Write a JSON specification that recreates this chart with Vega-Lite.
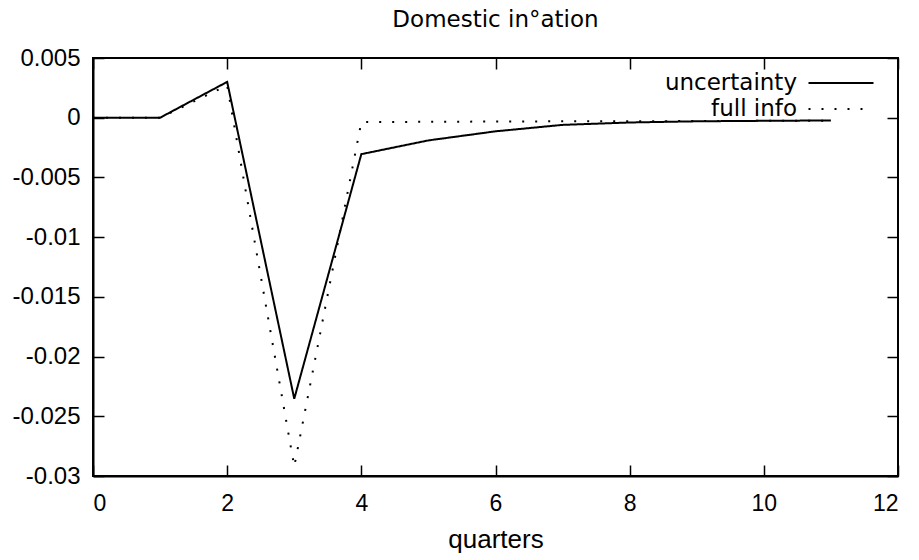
{
  "$schema": "https://vega.github.io/schema/vega-lite/v6.json",
  "width": 805,
  "height": 418,
  "autosize": "none",
  "padding": {"left": 93, "top": 58, "right": 21, "bottom": 84},
  "background": "white",
  "title": {
    "text": "Domestic in°ation",
    "font": "DejaVu Sans",
    "fontSize": 23,
    "fontWeight": "normal",
    "color": "black",
    "anchor": "middle",
    "offset": 14
  },
  "config": {
    "view": {"stroke": "black", "strokeWidth": 2},
    "axis": {
      "grid": false,
      "domainColor": "black",
      "domainWidth": 2,
      "tickColor": "black",
      "tickWidth": 1.5,
      "tickSize": -11,
      "labelColor": "black",
      "titleColor": "black"
    },
    "axisLeft": {"labelFont": "Liberation Sans", "labelFontSize": 24, "labelPadding": 24},
    "axisBottom": {"labelFont": "Liberation Sans", "labelFontSize": 23, "labelPadding": 27},
    "legend": {
      "orient": "none",
      "legendX": 734,
      "legendY": 11,
      "padding": 0,
      "symbolType": "M-2.5,0H2.5",
      "symbolSize": 676,
      "symbolStrokeWidth": 2,
      "symbolStrokeColor": "black",
      "symbolFillColor": "transparent",
      "rowPadding": 0,
      "labelAlign": "right",
      "labelBaseline": "middle",
      "labelOffset": -58,
      "labelFont": "DejaVu Sans",
      "labelFontSize": 23,
      "labelColor": "black",
      "labelLimit": 400
    }
  },
  "data": {
    "values": [
      {"q": 0, "value": 0, "series": "uncertainty"},
      {"q": 1, "value": 0, "series": "uncertainty"},
      {"q": 2, "value": 0.003, "series": "uncertainty"},
      {"q": 3, "value": -0.02353, "series": "uncertainty"},
      {"q": 4, "value": -0.00305, "series": "uncertainty"},
      {"q": 5, "value": -0.0019, "series": "uncertainty"},
      {"q": 6, "value": -0.00114, "series": "uncertainty"},
      {"q": 7, "value": -0.0006, "series": "uncertainty"},
      {"q": 8, "value": -0.0004, "series": "uncertainty"},
      {"q": 9, "value": -0.0003, "series": "uncertainty"},
      {"q": 10, "value": -0.00026, "series": "uncertainty"},
      {"q": 11, "value": -0.00023, "series": "uncertainty"},
      {"q": 0, "value": 0, "series": "full info"},
      {"q": 1, "value": 0, "series": "full info"},
      {"q": 2, "value": 0.0027, "series": "full info"},
      {"q": 3, "value": -0.0292, "series": "full info"},
      {"q": 4, "value": -0.00037, "series": "full info"},
      {"q": 5, "value": -0.00034, "series": "full info"},
      {"q": 6, "value": -0.00032, "series": "full info"},
      {"q": 7, "value": -0.0003, "series": "full info"},
      {"q": 8, "value": -0.0003, "series": "full info"},
      {"q": 9, "value": -0.00028, "series": "full info"},
      {"q": 10, "value": -0.00026, "series": "full info"},
      {"q": 11, "value": -0.00025, "series": "full info"}
    ]
  },
  "layer": [
    {
      "mark": {"type": "line", "color": "black", "strokeWidth": 2, "strokeCap": "butt", "clip": true},
      "encoding": {
        "x": {
          "field": "q",
          "type": "quantitative",
          "scale": {"domain": [0, 12], "nice": false, "zero": false},
          "axis": {
            "orient": "bottom",
            "values": [0, 2, 4, 6, 8, 10, 12],
            "title": "quarters",
            "titleFont": "Liberation Sans",
            "titleFontSize": 26,
            "titleFontWeight": "normal",
            "titlePadding": 11
          }
        },
        "y": {
          "field": "value",
          "type": "quantitative",
          "scale": {"domain": [-0.03, 0.005], "nice": false, "zero": false},
          "axis": {
            "orient": "left",
            "values": [-0.03, -0.025, -0.02, -0.015, -0.01, -0.005, 0, 0.005],
            "labelExpr": "toString(datum.value)",
            "title": null
          }
        },
        "strokeDash": {
          "field": "series",
          "type": "nominal",
          "scale": {"domain": ["uncertainty", "full info"], "range": [[1, 0], [2, 11]]},
          "legend": {"title": null}
        },
        "detail": {"field": "series"}
      }
    },
    {
      "mark": {"type": "line", "opacity": 0},
      "encoding": {
        "x": {
          "field": "q",
          "type": "quantitative",
          "axis": {"orient": "top", "values": [0, 2, 4, 6, 8, 10, 12], "labels": false, "title": null, "domain": false}
        },
        "y": {
          "field": "value",
          "type": "quantitative",
          "axis": {"orient": "right", "values": [-0.03, -0.025, -0.02, -0.015, -0.01, -0.005, 0, 0.005], "labels": false, "title": null, "domain": false}
        },
        "detail": {"field": "series"}
      }
    }
  ],
  "resolve": {"axis": {"x": "independent", "y": "independent"}}
}
